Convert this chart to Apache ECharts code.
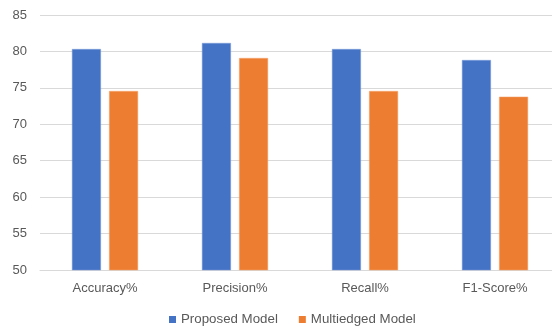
<!DOCTYPE html>
<html>
<head>
<meta charset="utf-8">
<script src="https://cdn.jsdelivr.net/npm/echarts@6/dist/echarts.min.js"></script>
<style>
  html, body { margin: 0; padding: 0; background: #fff; overflow: hidden; }
  #chart { width: 560px; height: 331px; }
</style>
</head>
<body>
<div id="chart"></div>
<script>
// Metric categories and scores for the two models
const categories = ['Accuracy%', 'Precision%', 'Recall%', 'F1-Score%'];
const proposedModel = [80.33, 81.16, 80.33, 78.82];
const multiedgedModel = [74.57, 79.1, 74.57, 73.79];
const seriesNames = ['Proposed Model', 'Multiedged Model'];

const font = 'Liberation Sans';
const textColor = '#595959';

const chart = echarts.init(document.getElementById('chart'), null, { renderer: 'canvas' });
chart.setOption({
  animation: false,
  color: ['#4472C4', '#ED7D31'],
  // plot area runs slightly past the right edge of the visible frame
  grid: { left: 40, top: 15, right: 0, bottom: 61, containLabel: false },
  legend: {
    top: 308,
    left: 164,
    icon: 'rect',
    itemWidth: 7,
    itemHeight: 7,
    itemGap: 21,
    itemStyle: { borderWidth: 0 },
    textStyle: { fontFamily: font, fontSize: 13.3, color: textColor },
    data: seriesNames
  },
  xAxis: {
    type: 'category',
    data: categories,
    axisTick: { show: false },
    axisLine: { lineStyle: { color: '#d9d9d9', width: 1 } },
    axisLabel: { fontFamily: font, fontSize: 13, color: textColor, margin: 12 }
  },
  yAxis: {
    type: 'value',
    min: 50,
    max: 85,
    interval: 5,
    axisLine: { show: false },
    axisTick: { show: false },
    splitLine: { lineStyle: { color: '#d9d9d9', width: 1 } },
    axisLabel: { fontFamily: font, fontSize: 13, color: textColor, margin: 13 }
  },
  series: [
    {
      name: seriesNames[0],
      type: 'bar',
      data: proposedModel,
      barWidth: 29,
      barGap: '28%',
      itemStyle: { borderColor: '#7f9fd9', borderWidth: 0.5 }
    },
    {
      name: seriesNames[1],
      type: 'bar',
      data: multiedgedModel,
      barWidth: 29,
      barGap: '28%',
      itemStyle: { borderColor: '#f4a772', borderWidth: 0.5 }
    }
  ]
});
</script>
</body>
</html>
